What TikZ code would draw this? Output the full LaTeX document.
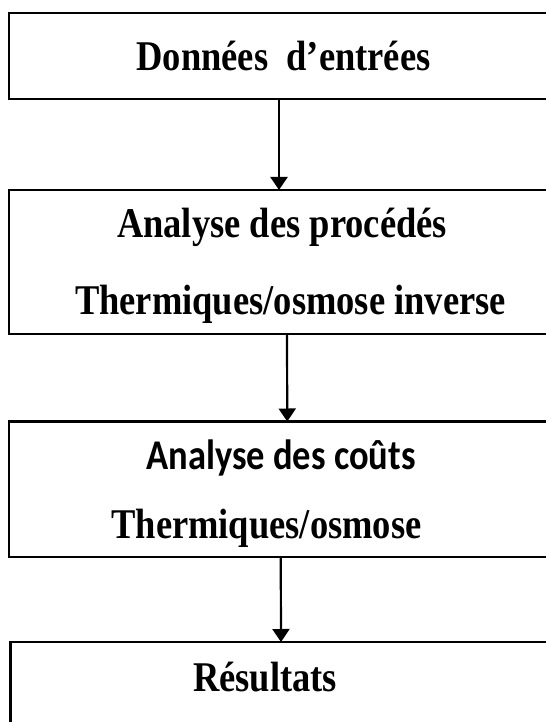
\documentclass[tikz,border=0pt]{standalone}
\usepackage{fontspec}
\usepackage{graphicx}
\setmainfont{Liberation Serif}
\newfontfamily\calibrifont{Carlito}
\usetikzlibrary{arrows.meta}
% labels are set in a slightly tall, narrow form
\newcommand{\tallbox}[1]{\scalebox{1}[1.16]{#1}}

\begin{document}
\begin{tikzpicture}[x=1bp,y=-1bp,
  stagebox/.style={draw=black, line width=2.2bp, rectangle, inner sep=0pt, outer sep=0pt, minimum width=543bp},
  lbl/.style={anchor=base, inner sep=0pt, font=\fontsize{36.5bp}{44bp}\selectfont\bfseries},
  flow/.style={line width=2.2bp, -{Triangle[length=13bp,width=17bp]}}]
  \useasboundingbox (0,0) rectangle (546,722);
  \clip (0,0) rectangle (546,722);

  % stage boxes (right and bottom edges run past the page)
  \node[stagebox, minimum height=86bp]  (b1) at (280.5,56) {};
  \node[stagebox, minimum height=144bp] (b2) at (280.5,262) {};
  \node[stagebox, minimum height=135.5bp] (b3) at (280.75,489.25) {};
  \node[stagebox, minimum height=118bp] (b4) at (282,701) {};

  % labels
  \node[lbl] (t1)  at (283.5,71)  {\tallbox{Données\ \ d’entrées}};
  \node[lbl] (t2a) at (282,237.5) {\tallbox{Analyse des procédés}};
  \node[lbl] (t2b) at (290.5,314) {\tallbox{Thermiques/osmose inverse}};
  \node[lbl, font=\fontsize{36.5bp}{44bp}\selectfont\calibrifont\bfseries] (t3a) at (281,469) {\tallbox{Analyse des coûts}};
  \node[lbl] (t3b) at (266.5,538.7) {\tallbox{Thermiques/osmose}};
  \node[lbl] (t4)  at (265,691)   {\tallbox{Résultats}};

  % connectors
  \draw[flow] ([xshift=-1.5bp]b1.south) -- ([xshift=-1.5bp]b2.north);
  \draw[flow] ([xshift=6.5bp]b2.south) -- ([xshift=6.5bp]b3.north);
  \draw[flow] (b3.south) -- ([xshift=-1bp]b4.north);
\end{tikzpicture}
\end{document}
